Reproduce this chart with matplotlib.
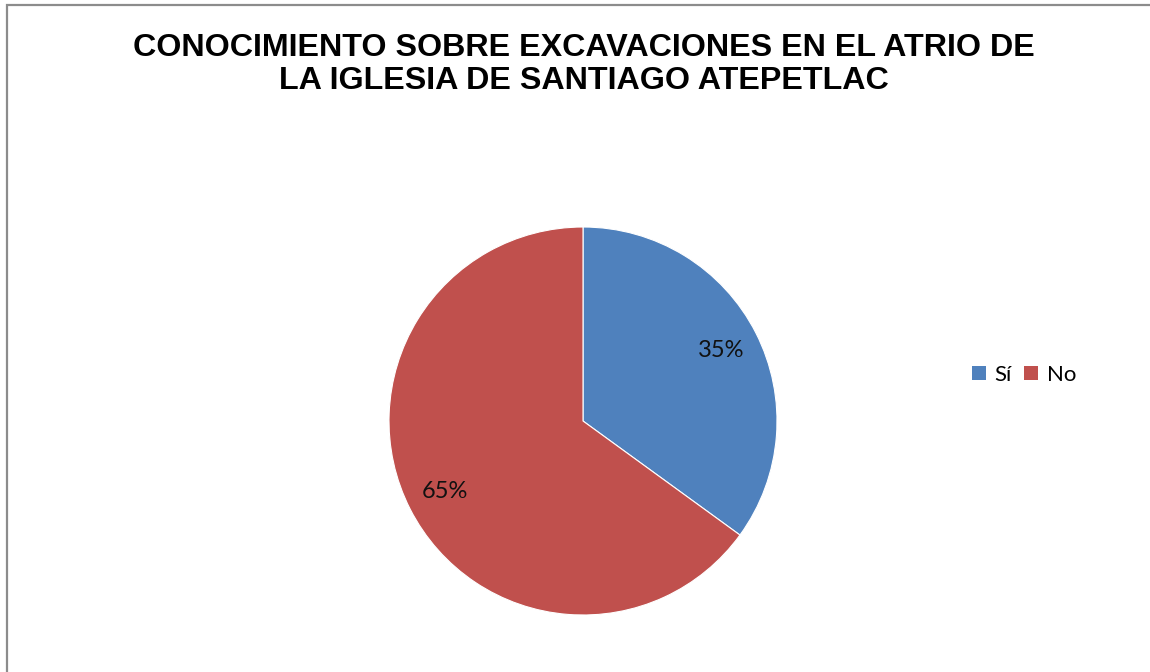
import matplotlib
matplotlib.use("Agg")
import matplotlib.pyplot as plt
from matplotlib.patches import Rectangle, Patch

categories = ["Sí", "No"]
values = [35, 65]
colors = ["#4F81BD", "#C0504D"]
title = "CONOCIMIENTO SOBRE EXCAVACIONES EN EL ATRIO DE\nLA IGLESIA DE SANTIAGO ATEPETLAC"

W, H = 1150, 672
fig = plt.figure(figsize=(W / 100, H / 100), dpi=100)
fig.patch.set_facecolor("white")

# border
fig.add_artist(Rectangle((6.5 / W, -0.05), 1.2, (H - 4.5) / H + 0.05,
                         transform=fig.transFigure, fill=False,
                         edgecolor="#8C8C8C", linewidth=1.6))

cx, cy, r = 583, 421, 194
ax = fig.add_axes([(cx - r) / W, (H - cy - r) / H, 2 * r / W, 2 * r / H])
wedges, texts, autotexts = ax.pie(values, colors=colors, startangle=90,
                                  counterclock=False, autopct="%1.0f%%",
                                  pctdistance=0.8, radius=1.0,
                                  wedgeprops=dict(linewidth=0.8, edgecolor="white"),
                                  textprops=dict(fontsize=17, family="Lato", color="#111111"))
ax.set_xlim(-1, 1)
ax.set_ylim(-1, 1)
ax.set_aspect("equal")
ax.axis("off")

fig.text(584 / W, 1 - 33 / H, title, ha="center", va="top",
         fontsize=23.2, fontweight="bold", family="Liberation Sans",
         linespacing=1.12, color="black")

handles = [Patch(facecolor=c, edgecolor="none") for c in colors]
fig.legend(handles, categories, loc="center left",
           bbox_to_anchor=(961 / W, 1 - 375 / H), ncol=2, frameon=False,
           prop=dict(family="Lato", size=16), handlelength=0.62, handleheight=0.62,
           handletextpad=0.4, columnspacing=0.55, borderpad=0)

fig.savefig("out.png", dpi=100, facecolor="white")
